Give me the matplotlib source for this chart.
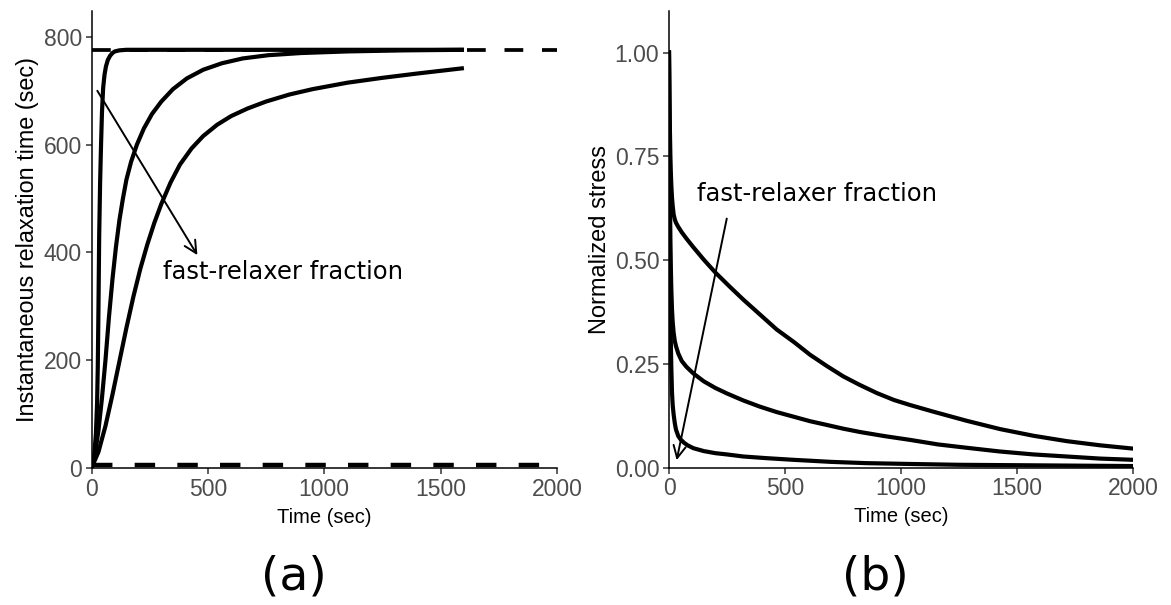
import matplotlib
matplotlib.use("Agg")
import matplotlib.pyplot as plt

# ---- Panel (a): instantaneous relaxation time ----
a_t1 = [0, 10, 19, 24, 27, 30, 33, 37, 41, 45, 50, 56, 62, 70, 80, 90, 100, 120, 150, 1600]
a_v1 = [0, 15, 64, 120, 188, 300, 430, 530, 600, 660, 705, 730, 745, 757, 765, 770, 773, 775, 776, 776]

a_t2 = [0, 15, 30, 45, 60, 75, 90, 105, 120, 135, 150, 170, 195, 225, 260, 300,
        350, 410, 480, 560, 650, 760, 900, 1100, 1350, 1600]
a_v2 = [0, 25, 70, 130, 200, 280, 350, 410, 460, 500, 535, 568, 600, 630, 657, 680,
        703, 723, 739, 751, 760, 766, 770, 773, 775, 776]

a_t3 = [0, 30, 60, 90, 120, 150, 180, 210, 240, 270, 300, 340, 380, 430, 480, 540,
        600, 670, 750, 850, 950, 1100, 1250, 1400, 1600]
a_v3 = [0, 30, 78, 136, 198, 260, 318, 370, 415, 455, 490, 530, 563, 593, 616, 637,
        653, 667, 680, 693, 703, 715, 724, 732, 742]

tau_slow = 776
tau_fast = 5

# ---- Panel (b): normalized stress ----
b_tA = [0, 2, 4, 6, 8, 10, 13, 16, 20, 25, 30, 40, 55, 75, 105, 150, 200, 260, 320,
        390, 464, 540, 608, 680, 751, 820, 895, 970, 1039, 1139, 1283, 1427, 1570,
        1714, 1857, 2000]
b_vA = [1.0, 0.89, 0.81, 0.75, 0.71, 0.68, 0.65, 0.63, 0.61, 0.598, 0.59, 0.58,
        0.567, 0.552, 0.531, 0.501, 0.47, 0.437, 0.405, 0.37, 0.333, 0.302, 0.272,
        0.245, 0.22, 0.2, 0.18, 0.163, 0.151, 0.135, 0.113, 0.093, 0.077, 0.064,
        0.054, 0.046]

b_tB = [0, 2, 4, 6, 8, 10, 13, 16, 20, 25, 30, 40, 55, 75, 105, 150, 200, 249, 320,
        392, 464, 536, 608, 680, 751, 823, 930, 1039, 1160, 1283, 1427, 1570, 1714,
        1857, 2000]
b_vB = [1.0, 0.80, 0.66, 0.55, 0.48, 0.43, 0.38, 0.35, 0.325, 0.305, 0.293, 0.275,
        0.257, 0.243, 0.227, 0.208, 0.192, 0.179, 0.162, 0.147, 0.134, 0.123, 0.112,
        0.103, 0.094, 0.086, 0.076, 0.067, 0.056, 0.048, 0.039, 0.032, 0.027, 0.022,
        0.019]

b_tC = [0, 2, 4, 6, 8, 10, 13, 16, 20, 25, 30, 40, 50, 65, 80, 105, 150, 200, 249,
        320, 420, 536, 700, 850, 1039, 1250, 1500, 1750, 2000]
b_vC = [1.0, 0.73, 0.53, 0.40, 0.30, 0.24, 0.18, 0.15, 0.128, 0.107, 0.092, 0.076,
        0.068, 0.06, 0.054, 0.047, 0.04, 0.035, 0.032, 0.027, 0.023, 0.019, 0.014,
        0.011, 0.009, 0.007, 0.006, 0.005, 0.004]

x_ticks = [0, 500, 1000, 1500, 2000]
a_yticks = [0, 200, 400, 600, 800]
b_yticks = [0.0, 0.25, 0.5, 0.75, 1.0]
b_yticklabels = ["0.00", "0.25", "0.50", "0.75", "1.00"]

W, H = 1171, 605
fig = plt.figure(figsize=(W / 100, H / 100), dpi=100)

def px_axes(x0, x1, ytop, ybot):
    return fig.add_axes([x0 / W, 1 - ybot / H, (x1 - x0) / W, (ybot - ytop) / H])

axA = px_axes(91.5, 557, 11, 468)
axB = px_axes(669, 1133, 11, 467.7)

label_font = "Liberation Sans"
gray = "#4D4D4D"

for ax in (axA, axB):
    for s in ("top", "right"):
        ax.spines[s].set_visible(False)
    for s in ("left", "bottom"):
        ax.spines[s].set_linewidth(1.1)
        ax.spines[s].set_color("black")
    ax.tick_params(direction="out", length=4, width=1.1, color="#333333",
                   labelcolor=gray, labelsize=16.5, pad=3)
    ax.set_xlim(0, 2000)
    ax.set_xticks(x_ticks)
    ax.set_xlabel("Time (sec)", family=label_font, fontsize=14.5, labelpad=5)

lw = 3.0
# Panel (a)
for t, v in ((a_t1, a_v1), (a_t2, a_v2), (a_t3, a_v3)):
    axA.plot(t, v, color="black", lw=lw, solid_joinstyle="round",
             solid_capstyle="butt", zorder=3)
axA.plot([0, 2000], [tau_slow, tau_slow], color="black", lw=2.7,
         dashes=(5, 5), zorder=2)
axA.plot([0, 2000], [tau_fast, tau_fast], color="black", lw=3.2,
         dashes=(4.6, 5.0), zorder=2, clip_on=False)
axA.set_ylim(0, 848)
axA.set_yticks(a_yticks)
axA.set_ylabel("Instantaneous relaxation time (sec)", family=label_font,
               fontsize=16.8, labelpad=3)
axA.annotate("", xy=(455, 395), xytext=(25, 700),
             arrowprops=dict(arrowstyle="->", color="black", lw=1.4,
                             mutation_scale=22, shrinkA=0, shrinkB=0))
axA.text(823, 364, "fast-relaxer fraction", ha="center", va="center",
         fontsize=17.5, family="DejaVu Sans")

# Panel (b)
for t, v in ((b_tA, b_vA), (b_tB, b_vB), (b_tC, b_vC)):
    axB.plot(t, v, color="black", lw=lw, solid_joinstyle="round", zorder=3)
axB.set_ylim(0, 1.1)
axB.set_yticks(b_yticks)
axB.set_yticklabels(b_yticklabels)
axB.set_ylabel("Normalized stress", family=label_font, fontsize=17)
axB.yaxis.set_label_coords(-0.124, 0.5)
axB.annotate("", xy=(33, 0.018), xytext=(249, 0.60),
             arrowprops=dict(arrowstyle="->", color="black", lw=1.4,
                             mutation_scale=22, shrinkA=0, shrinkB=0))
axB.text(638, 0.66, "fast-relaxer fraction", ha="center", va="center",
         fontsize=17.5, family="DejaVu Sans")

for ax in (axA, axB):
    for lab in ax.get_xticklabels() + ax.get_yticklabels():
        lab.set_family("Liberation Sans")

fig.text(294 / W, 1 - 577 / H, "(a)", ha="center", va="center",
         fontsize=34, family="DejaVu Sans")
fig.text(875 / W, 1 - 577 / H, "(b)", ha="center", va="center",
         fontsize=34, family="DejaVu Sans")

fig.savefig("out.png", dpi=100)
